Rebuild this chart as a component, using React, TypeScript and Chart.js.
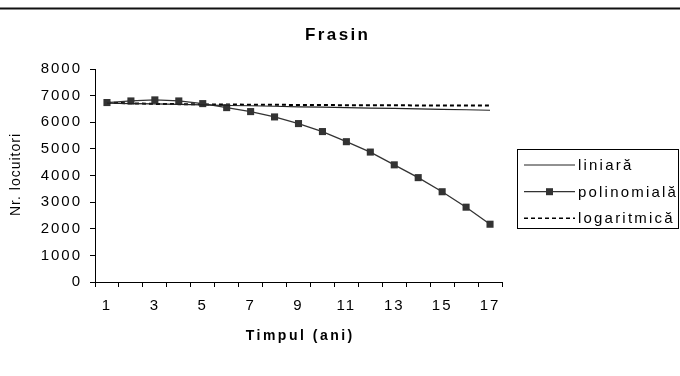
import React, { useEffect, useRef } from "react";
import { Chart, registerables } from "chart.js";

Chart.register(...registerables);

const years = ["1", "2", "3", "4", "5", "6", "7", "8", "9", "10", "11", "12", "13", "14", "15", "16", "17"];
const liniara = [6720, 6700, 6690, 6670, 6650, 6630, 6620, 6600, 6580, 6570, 6550, 6530, 6520, 6500, 6480, 6470, 6450];
const polinomiala = [6740, 6800, 6840, 6800, 6700, 6550, 6400, 6200, 5950, 5650, 5270, 4880, 4400, 3920, 3390, 2810, 2170];
const logaritmica = [6740, 6710, 6690, 6680, 6670, 6665, 6660, 6655, 6650, 6645, 6642, 6640, 6636, 6633, 6630, 6628, 6625];
const seriesNames = ["liniară", "polinomială", "logaritmică"];
const titleText = "Frasin";
const xTitle = "Timpul (ani)";
const yTitle = "Nr. locuitori";

const FONT = "'Liberation Sans', Arial, sans-serif";

function spacedText(ctx: CanvasRenderingContext2D, text: string, x: number, y: number, spacing: number, align: "left" | "center") {
  ctx.save();
  (ctx as any).letterSpacing = spacing + "px";
  const w = ctx.measureText(text).width - spacing;
  ctx.textAlign = "left";
  const sx = align === "center" ? x - w / 2 : x;
  ctx.fillText(text, sx, y);
  ctx.restore();
}

const decorPlugin = {
  id: "decor",
  beforeDraw(chart: any) {
    const ctx = chart.ctx as CanvasRenderingContext2D;
    (ctx as any).letterSpacing = "2px";
  },
  afterDraw(chart: any) {
    const ctx = chart.ctx as CanvasRenderingContext2D;
    ctx.save();
    (ctx as any).letterSpacing = "0px";
    // top border
    ctx.fillStyle = "#111";
    ctx.fillRect(0, 7.5, 680, 2);
    // title
    ctx.fillStyle = "#000";
    ctx.textBaseline = "alphabetic";
    ctx.font = "bold 17px " + FONT;
    spacedText(ctx, titleText, 336.5, 40, 2.4, "center");
    // x title
    ctx.font = "bold 14px " + FONT;
    spacedText(ctx, xTitle, 299, 339.5, 2.5, "center");
    // y title
    ctx.save();
    ctx.translate(19.5, 175);
    ctx.rotate(-Math.PI / 2);
    ctx.font = "14px " + FONT;
    spacedText(ctx, yTitle, 0, 0, 1, "center");
    ctx.restore();
    // legend
    ctx.strokeStyle = "#000";
    ctx.lineWidth = 1;
    ctx.strokeRect(517.5, 149.5, 161, 79);
    const rows = [165, 191.7, 218.3];
    ctx.font = "15px " + FONT;
    ctx.textBaseline = "middle";
    rows.forEach((ry, i) => {
      ctx.save();
      ctx.beginPath();
      if (i === 0) {
        ctx.strokeStyle = "#222";
        ctx.lineWidth = 1;
      } else if (i === 1) {
        ctx.strokeStyle = "#333";
        ctx.lineWidth = 1.3;
      } else {
        ctx.strokeStyle = "#000";
        ctx.lineWidth = 1.5;
        ctx.setLineDash([4, 3]);
      }
      ctx.moveTo(524, ry);
      ctx.lineTo(575, ry);
      ctx.stroke();
      ctx.restore();
      if (i === 1) {
        ctx.fillStyle = "#333";
        ctx.fillRect(549.5 - 3.5, ry - 3.5, 7, 7);
      }
      ctx.fillStyle = "#000";
      spacedText(ctx, seriesNames[i], 578, ry + 1, 2.2, "left");
    });
    ctx.restore();
  },
};

export default function App() {
  const ref = useRef<HTMLCanvasElement | null>(null);
  useEffect(() => {
    if (!ref.current) return;
    const chart = new Chart(ref.current, {
      type: "line",
      data: {
        labels: years,
        datasets: [
          {
            label: seriesNames[0],
            data: liniara,
            borderColor: "#222",
            borderWidth: 1.2,
            pointRadius: 0,
            tension: 0,
          },
          {
            label: seriesNames[1],
            data: polinomiala,
            borderColor: "#333",
            borderWidth: 1.3,
            pointStyle: "rect",
            pointRadius: 5,
            pointBackgroundColor: "#333",
            pointBorderColor: "#333",
            pointBorderWidth: 0,
            tension: 0,
          },
          {
            label: seriesNames[2],
            data: logaritmica,
            borderColor: "#000",
            borderWidth: 2,
            borderDash: [4, 3],
            pointRadius: 0,
            tension: 0,
          },
        ],
      },
      options: {
        responsive: false,
        animation: false,
        layout: { padding: { top: 69, right: 178, left: 0, bottom: 0 } },
        plugins: {
          legend: { display: false },
          title: { display: false },
          tooltip: { enabled: false },
        },
        scales: {
          x: {
            type: "category",
            offset: true,
            grid: { offset: true, drawOnChartArea: false, drawTicks: true, tickLength: 5, color: "#000" },
            border: { display: true, color: "#000", width: 1 },
            ticks: {
              autoSkip: false,
              maxRotation: 0,
              padding: 10,
              color: "#000",
              font: { family: FONT, size: 15 },
              callback: (_v: any, i: number) => (i % 2 === 0 ? years[i] : ""),
            },
            afterFit: (s: any) => {
              s.height = 94;
            },
          },
          y: {
            min: 0,
            max: 8000,
            ticks: {
              stepSize: 1000,
              padding: 8,
              color: "#000",
              font: { family: FONT, size: 15 },
              callback: (v: any) => String(v),
            },
            grid: { drawOnChartArea: false, drawTicks: true, tickLength: 5, color: "#000" },
            border: { display: true, color: "#000", width: 1 },
            afterFit: (s: any) => {
              s.width = 95;
            },
          },
        },
      },
      plugins: [decorPlugin],
    });
    return () => chart.destroy();
  }, []);
  return (
    <div style={{ position: "absolute", left: 0, top: 0, width: 680, height: 376, background: "#fff" }}>
      <canvas ref={ref} width={680} height={376} style={{ width: 680, height: 376, display: "block" }} />
    </div>
  );
}
